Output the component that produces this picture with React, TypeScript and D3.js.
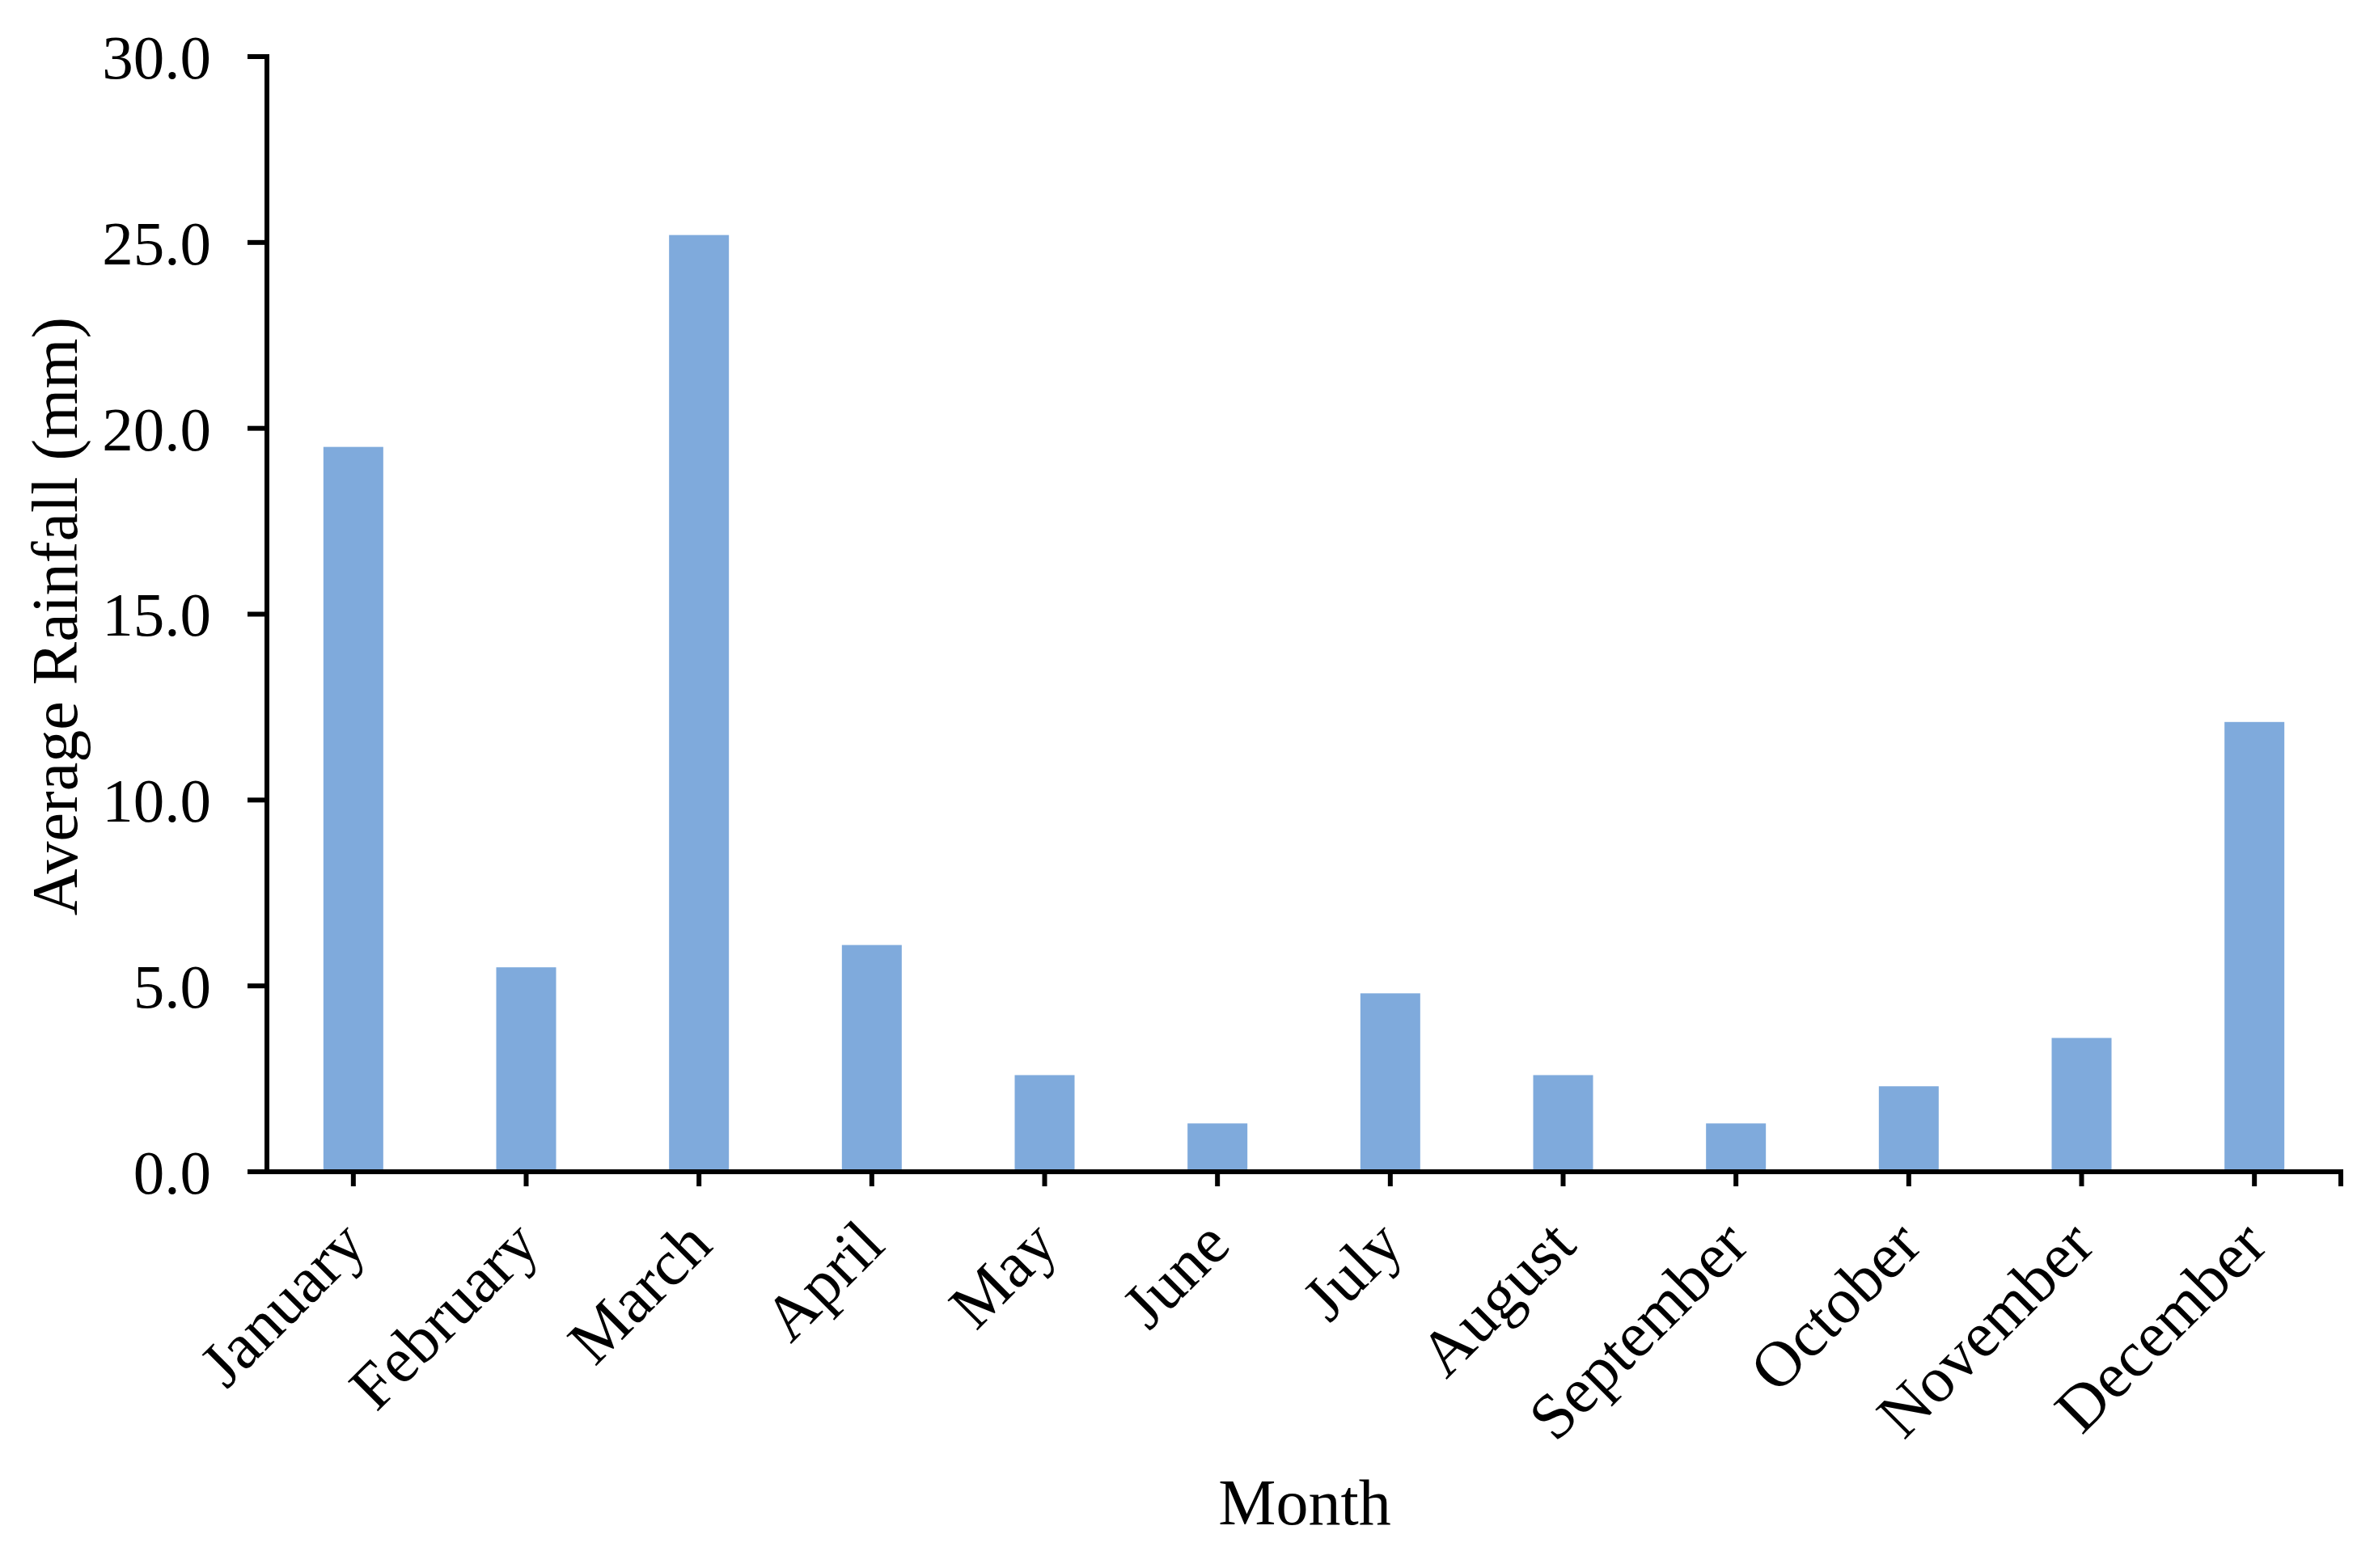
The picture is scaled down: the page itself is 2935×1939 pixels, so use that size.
import React from "react";
import * as d3 from "d3";

const months = ["January","February","March","April","May","June","July","August","September","October","November","December"];
const rainfall = [19.5, 5.5, 25.2, 6.1, 2.6, 1.3, 4.8, 2.6, 1.3, 2.3, 3.6, 12.1];
const yTicks = [0, 5, 10, 15, 20, 25, 30];

const W = 2935, H = 1939;
const left = 330, right = 2894, top = 70, bottom = 1449;
const font = "'Liberation Serif', 'Times New Roman', serif";

export default function App() {
  const xc = d3.scaleBand<string>().domain(months).range([left, right]);
  const y = d3.scaleLinear().domain([0, 30]).range([bottom, top]);
  const fmt = d3.format(".1f");
  const sw = 6;
  return (
    <svg width={W} height={H} style={{ position: "absolute", left: 0, top: 0, background: "#fff" }}>
      <rect x={0} y={0} width={W} height={H} fill="#fff" />
      {months.map((m, i) => (
        <rect key={m} x={xc(m)! + xc.bandwidth() / 2 - 37} width={74} y={y(rainfall[i])} height={bottom - y(rainfall[i])} fill="#7FAADC" />
      ))}
      {/* y axis */}
      <line x1={left} x2={left} y1={top - sw / 2} y2={bottom + sw / 2} stroke="#000" strokeWidth={sw} />
      {yTicks.map((t) => (
        <g key={t}>
          <line x1={left - 24} x2={left} y1={y(t)} y2={y(t)} stroke="#000" strokeWidth={sw} />
          <text x={261} y={y(t)} dy="0.35em" textAnchor="end" fontFamily={font} fontSize={77} fill="#000">{fmt(t)}</text>
        </g>
      ))}
      {/* x axis */}
      <line x1={left - 24} x2={right + sw / 2} y1={bottom} y2={bottom} stroke="#000" strokeWidth={sw} />
      {months.map((m) => {
        const cx = xc(m)! + xc.bandwidth() / 2;
        return (
          <g key={m}>
            <line x1={cx} x2={cx} y1={bottom} y2={bottom + 18} stroke="#000" strokeWidth={sw} />
            <text transform={`translate(${cx + 19},${bottom + 94}) rotate(-45)`} textAnchor="end" fontFamily={font} fontSize={80} fill="#000">{m}</text>
          </g>
        );
      })}
      <line x1={right} x2={right} y1={bottom} y2={bottom + 18} stroke="#000" strokeWidth={sw} />
      <text x={1613} y={1885} textAnchor="middle" fontFamily={font} fontSize={80} fill="#000">Month</text>
      <text transform={`translate(67,762) rotate(-90)`} dy="0.35em" textAnchor="middle" fontFamily={font} fontSize={80} fill="#000">Average Rainfall (mm)</text>
    </svg>
  );
}
